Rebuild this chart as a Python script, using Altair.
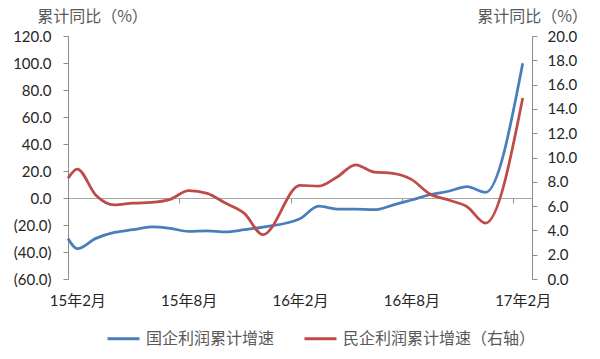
import altair as alt
import pandas as pd

# ---- data ----
series_names = ["国企利润累计增速", "民企利润累计增速（右轴）"]
# month index: 0 = 2015-02 ... 24 = 2017-02 (January values not published); -0.5 = left edge of the curve
pos = [-0.5, 0, 1, 2, 3, 4, 5, 6, 7, 8, 9, 10,
       12, 13, 14, 15, 16, 17, 18, 19, 20, 21, 22, 24]
soe = [-30.0, -37.5, -29.9, -25.5, -23.5, -21.4, -22.5, -24.7, -24.3, -25.1, -23.5, -21.6,
       -15.3, -6.0, -8.2, -8.3, -8.7, -5.3, -1.5, 2.4, 5.0, 8.4, 4.2, 99.8]
pvt = [8.3, 9.05, 6.9, 6.1, 6.25, 6.3, 6.55, 7.28, 7.05, 6.23, 5.4, 3.65,
       7.7, 7.65, 8.4, 9.4, 8.8, 8.7, 8.2, 7.0, 6.5, 5.95, 4.6, 14.9]

x_tick_values = [0, 6, 12, 18, 24]
x_tick_labels = ["15年2月", "15年8月", "16年2月", "16年8月", "17年2月"]
left_ticks = [-60, -40, -20, 0, 20, 40, 60, 80, 100, 120]
right_ticks = [0, 2, 4, 6, 8, 10, 12, 14, 16, 18, 20]
y_title = "累计同比（%）"

colors = ["#4a7ebb", "#be4b48"]

df = pd.concat([
    pd.DataFrame({"pos": pos, "value": soe, "series": series_names[0]}),
    pd.DataFrame({"pos": pos, "value": pvt, "series": series_names[1]}),
])

W, H = 464, 243
band = W / 25.0

label_expr = ""
for v, l in zip(x_tick_values, x_tick_labels):
    label_expr += f"datum.value == {v} ? '{l}' : "
label_expr += "''"

NUM_FONT = "Lato, Noto Sans CJK SC"
CJK_FONT = "Noto Sans CJK SC"
AXIS_GREY = "#8c8c8c"

x_enc = alt.X(
    "pos:Q",
    scale=alt.Scale(domain=[-0.5, 24.5], nice=False, zero=False),
    axis=alt.Axis(
        title=None,
        orient="bottom",
        offset=-81,
        values=x_tick_values,
        labelExpr=label_expr,
        tickOffset=-band / 2,
        labelOffset=band / 2,
        tickSize=5,
        tickColor=AXIS_GREY,
        domainColor="#a6a6a6",
        domainWidth=1.2,
        labelPadding=90,
        labelFont=NUM_FONT,
        labelFontSize=15,
        labelColor="#262626",
        grid=False,
        zindex=0,
    ),
)

color_enc = alt.Color(
    "series:N",
    sort=series_names,
    scale=alt.Scale(domain=series_names, range=colors),
    legend=alt.Legend(
        title=None,
        orient="none",
        direction="horizontal",
        legendX=38,
        legendY=285,
        symbolType="stroke",
        symbolSize=1024,
        symbolStrokeWidth=3,
        labelFont=CJK_FONT,
        labelFontSize=16,
        labelColor="#595959",
        labelOffset=5,
        labelLimit=400,
        columnPadding=23,
        padding=0,
    ),
)

base = alt.Chart(df).encode(x=x_enc, color=color_enc)

left_axis = alt.Axis(
    orient="left",
    values=left_ticks,
    labelExpr="datum.value < 0 ? '(' + format(-datum.value, '.1f') + ')' : format(datum.value, '.1f')",
    labelFont=NUM_FONT,
    labelFontSize=15,
    labelColor="#262626",
    labelPadding=12,
    tickSize=5,
    tickColor=AXIS_GREY,
    domainColor=AXIS_GREY,
    grid=False,
    title=y_title,
    titleAngle=0,
    titleX=24,
    titleY=-20,
    titleAlign="center",
    titleBaseline="middle",
    titleFont=CJK_FONT,
    titleFontSize=16,
    titleFontWeight="normal",
    titleColor="#595959",
)

right_axis = alt.Axis(
    orient="right",
    values=right_ticks,
    format=".1f",
    labelFont=NUM_FONT,
    labelFontSize=15,
    labelColor="#262626",
    labelPadding=10,
    tickSize=5,
    tickColor=AXIS_GREY,
    domainColor=AXIS_GREY,
    grid=False,
    title=y_title,
    titleAngle=0,
    titleX=0,
    titleY=-20,
    titleAlign="center",
    titleBaseline="middle",
    titleFont=CJK_FONT,
    titleFontSize=16,
    titleFontWeight="normal",
    titleColor="#595959",
)

blue = base.transform_filter(alt.datum.series == series_names[0]).mark_line(
    interpolate="monotone", strokeWidth=2.75
).encode(
    y=alt.Y("value:Q", scale=alt.Scale(domain=[-60, 120], nice=False, zero=False), axis=left_axis)
)

red = base.transform_filter(alt.datum.series == series_names[1]).mark_line(
    interpolate="monotone", strokeWidth=2.75
).encode(
    y=alt.Y("value:Q", scale=alt.Scale(domain=[0, 20], nice=False, zero=False), axis=right_axis)
)

chart = alt.layer(blue, red).resolve_scale(y="independent").properties(
    width=W,
    height=H,
    autosize="none",
    padding={"left": 68, "top": 36, "right": 68, "bottom": 80},
    background="white",
).configure_view(stroke=None)

chart.save("out.html", embed_options={"renderer": "svg", "actions": False})
